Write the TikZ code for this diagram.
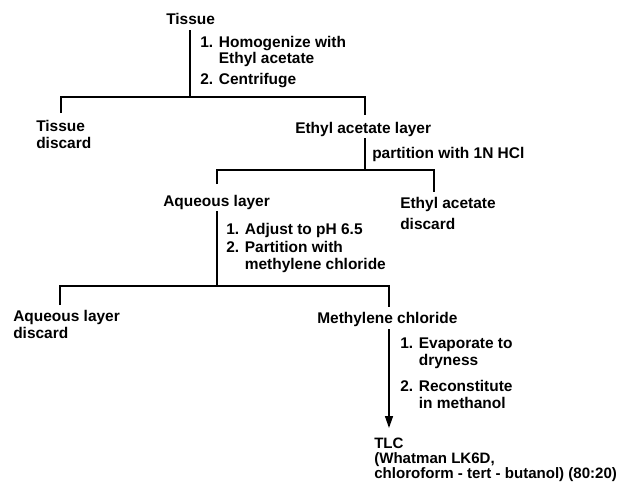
\documentclass[tikz,border=0pt]{standalone}
\usepackage{fontspec}
\setmainfont{Liberation Sans}
\usetikzlibrary{arrows.meta,calc}
\begin{document}
\begin{tikzpicture}[x=0.75pt,y=-0.75pt,
  lbl/.style={anchor=base west,inner sep=0pt,align=left,font=\fontsize{11.6}{12.2}\selectfont\bfseries},
  ln/.style={line width=1.1pt},
  arr/.style={ln,-{Triangle[length=9pt,width=6pt]}}]
\useasboundingbox (0,0) rectangle (620,486);
% text nodes (anchor at the baseline of the last line)
\node[lbl] (tissue) at (166,24) {Tissue};
\node[lbl] (s1) at (200,63.5) {1. Homogenize with\\\hphantom{1. }Ethyl acetate};
\node[lbl] (s2) at (200,84) {2. Centrifuge};
\node[lbl] (td) at (36,148) {Tissue\\discard};
\node[lbl] (eal) at (295,133) {Ethyl acetate layer};
\node[lbl] (p1) at (372,158) {partition with 1N HCl};
\node[lbl] (aq) at (163,206) {Aqueous layer};
\node[lbl] (ead) at (400,229) {Ethyl acetate\\[3pt]discard};
\node[lbl] (s3) at (226,234) {1. Adjust to pH 6.5};
\node[lbl] (s4) at (226,269) {2. Partition with\\\hphantom{2. }methylene chloride};
\node[lbl] (ald) at (13,338) {Aqueous layer\\discard};
\node[lbl] (mc) at (317,323) {Methylene chloride};
\node[lbl] (s5) at (400,365) {1. Evaporate to\\\hphantom{1. }dryness};
\node[lbl] (s6) at (400,408) {2. Reconstitute\\\hphantom{2. }in methanol};
\node[lbl,font=\fontsize{11.3}{11.2}\selectfont\bfseries] (tlc) at (374,478) {TLC\\(Whatman LK6D,\\chloroform - tert - butanol) (80:20)};
% junction coordinates
\coordinate (a0) at (190,30);
\coordinate (a1) at (190,97);
\coordinate (a1l) at (61,97);
\coordinate (a1r) at (365,97);
\coordinate (a1le) at (61,113);
\coordinate (a1re) at (365,115);
\coordinate (b0) at (365,138);
\coordinate (b1) at (365,170);
\coordinate (b1l) at (217,170);
\coordinate (b1r) at (434,170);
\coordinate (b1le) at (217,184);
\coordinate (b1re) at (434,192);
\coordinate (c0) at (217,211);
\coordinate (c1) at (217,286);
\coordinate (c1l) at (60,286);
\coordinate (c1r) at (389,286);
\coordinate (c1le) at (60,305);
\coordinate (c1re) at (389,307);
\coordinate (d0) at (389,329);
\coordinate (d1) at (389,428);
% connectors
\draw[ln] (a0) -- (a1);
\draw[ln] (a1le) -- (a1l) -- (a1r) -- (a1re);
\draw[ln] (b0) -- (b1);
\draw[ln] (b1le) -- (b1l) -- (b1r) -- (b1re);
\draw[ln] (c0) -- (c1);
\draw[ln] (c1le) -- (c1l) -- (c1r) -- (c1re);
\draw[arr] (d0) -- (d1);
\end{tikzpicture}
\end{document}
